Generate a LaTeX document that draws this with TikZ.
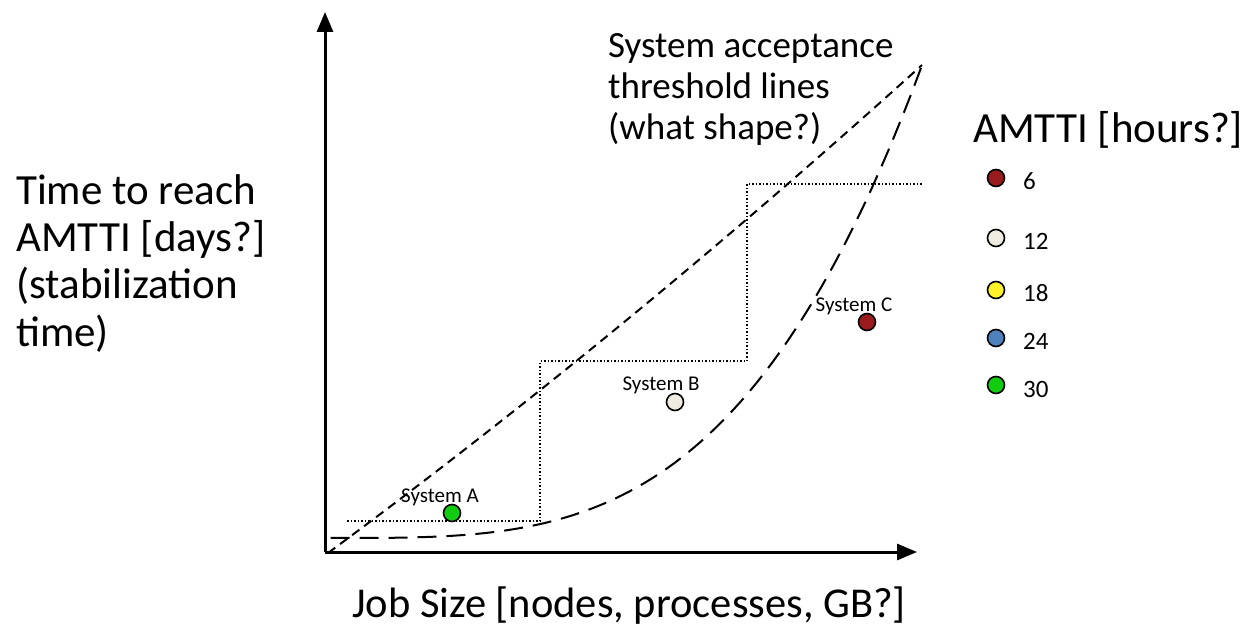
\documentclass[tikz,border=0pt]{standalone}
\usepackage{fontspec}
\setmainfont{Carlito}
\usetikzlibrary{arrows.meta}
\definecolor{cred}{HTML}{991B1E}
\definecolor{cbeige}{HTML}{EEECE1}
\definecolor{cyellow}{HTML}{FFF22A}
\definecolor{cblue}{HTML}{4F81BD}
\definecolor{cgreen}{HTML}{12CC12}
\begin{document}
\begin{tikzpicture}[x=1pt,y=-1pt,
  axis/.style={line width=3pt,-{Triangle[length=20pt,width=16pt]}},
  bigtext/.style={font=\fontsize{43}{45}\selectfont,inner sep=0pt,anchor=base west},
  toptext/.style={font=\fontsize{37}{41}\selectfont,inner sep=0pt,anchor=base west},
  smalltext/.style={font=\fontsize{21}{24}\selectfont,inner sep=0pt},
  legtext/.style={font=\fontsize{25}{27}\selectfont,inner sep=0pt,anchor=west},
  dot/.style={circle,draw=black,line width=1.6pt,minimum size=17pt,inner sep=0pt},
  shortdash/.style={line width=2pt,dash pattern=on 9pt off 6pt},
  longdash/.style={line width=2pt,dash pattern=on 19pt off 10pt},
  dotline/.style={line width=1.5pt,dash pattern=on 1.5pt off 2pt}]
\useasboundingbox (0,0) rectangle (1245,628);
% axes
\coordinate (O) at (325,552);
\coordinate (ytip) at (325,12);
\coordinate (xtip) at (917,552);
\draw[axis] (O) -- (ytip);
\draw[axis] (O) -- (xtip);
% near-straight threshold line
\coordinate (l0) at (328,553);
\coordinate (l1) at (922,65);
\draw[shortdash] (l0) .. controls (526,407) and (724,244) .. (l1);
% curved threshold line
\draw[longdash] plot[domain=330.5:922,samples=80,smooth] (\x,{538-473*pow((\x-330)/592,3.4)});
% staircase threshold line
\draw[dotline] (347,521) -- (540,521) -- (540,361) -- (747,361) -- (747,184) -- (922,184);
% systems
\node[dot,fill=cgreen] (sa) at (452,513) {};
\node[smalltext] (la) at (440,497) {System A};
\node[dot,fill=cbeige] (sb) at (675,402) {};
\node[smalltext] (lb) at (661,385) {System B};
\node[dot,fill=cred] (sc) at (867,322) {};
\node[smalltext] (lc) at (854,306) {System C};
% legend
\node[bigtext] (legtitle) at (973,143) {AMTTI [hours?]};
\node[dot,fill=cred] (d1) at (996,178) {};
\node[legtext] (t1) at (1023,181) {6};
\node[dot,fill=cbeige] (d2) at (996,238) {};
\node[legtext] (t2) at (1023,241) {12};
\node[dot,fill=cyellow] (d3) at (996,290) {};
\node[legtext] (t3) at (1023,293) {18};
\node[dot,fill=cblue] (d4) at (996,338) {};
\node[legtext] (t4) at (1023,341) {24};
\node[dot,fill=cgreen] (d5) at (996,385) {};
\node[legtext] (t5) at (1023,389) {30};
% y label
\node[bigtext] (ya) at (16,205) {Time to reach};
\node[bigtext] (yb) at (16,252) {AMTTI [days?]};
\node[bigtext] (yc) at (16,299) {(stabilization};
\node[bigtext] (yd) at (16,346) {time)};
% threshold label
\node[toptext] (ta) at (608,58) {System acceptance};
\node[toptext] (tb) at (608,99) {threshold lines};
\node[toptext] (tc) at (608,140) {(what shape?)};
% x label
\node[bigtext,font=\fontsize{42.5}{45}\selectfont] (xlab) at (352,617) {Job Size [nodes, processes, GB?]};
\end{tikzpicture}
\end{document}
